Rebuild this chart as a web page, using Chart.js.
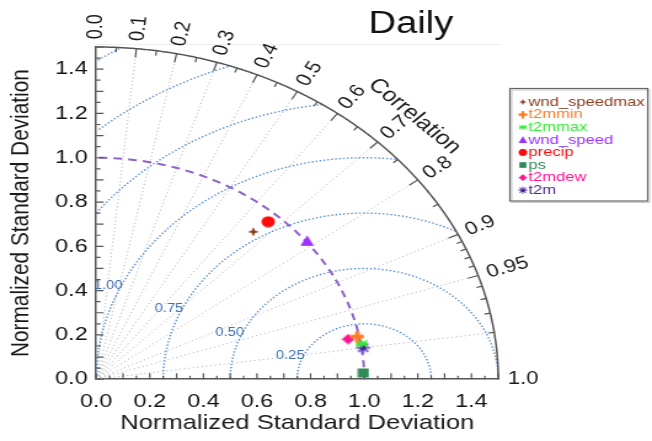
<!DOCTYPE html>
<html>
<head>
<meta charset="utf-8">
<script src="https://cdn.jsdelivr.net/npm/chart.js@4.4.1/dist/chart.umd.min.js"></script>
<style>
body { margin: 0; background: #fff; }
#taylor { display: block; }
</style>
</head>
<body>
<canvas id="taylor" width="530" height="441"></canvas>
<script>
// model names, normalized std and correlation
var models = ['wnd_speedmax', 't2mmin', 't2mmax', 'wnd_speed', 'precip', 'ps', 't2mdew', 't2m'];
var stdDev = [0.887, 0.993, 1.002, 1.005, 0.958, 0.997, 0.957, 1.006];
var correlation = [0.661, 0.981, 0.987, 0.783, 0.670, 0.9996, 0.982, 0.990];
var colors = ['#8c3a1c', '#ff7a1f', '#33ee33', '#9b30ff', '#ff0a0a', '#2e8b57', '#ff1493', '#4b2896'];

var stdTicks = [0, 0.2, 0.4, 0.6, 0.8, 1.0, 1.2, 1.4];
var corrLines = [0.1, 0.2, 0.3, 0.4, 0.5, 0.6, 0.7, 0.8, 0.9, 0.95, 0.99];
var corrLabelValues = [0, 0.1, 0.2, 0.3, 0.4, 0.5, 0.6, 0.7, 0.8, 0.9, 0.95, 1.0];
var corrLabelText = ['0.0', '0.1', '0.2', '0.3', '0.4', '0.5', '0.6', '0.7', '0.8', '0.9', '0.95', '1.0'];
var rmsLevels = [0.25, 0.5, 0.75, 1.0, 1.25, 1.5, 1.75];
var rmsLabelText = ['0.25', '0.50', '0.75', '1.00'];
var refStd = 1.0;
var stdMax = 1.5;

var FONT = "'Liberation Sans', Arial, Helvetica, sans-serif";

function marker(size, draw) {
    var c = document.createElement('canvas');
    c.width = size; c.height = size;
    draw(c.getContext('2d'), size / 2, size);
    return c;
}

var shapes = [
    // 4 point star
    function (col) { return marker(10, function (g, c, s) {
        g.fillStyle = col; g.beginPath();
        for (var k = 0; k < 8; k++) {
            var a = k * Math.PI / 4 - Math.PI / 2, r = k % 2 ? 1.8 : c - 0.3;
            g.lineTo(c + r * Math.cos(a), c + r * Math.sin(a));
        }
        g.closePath(); g.fill();
    }); },
    // thick plus
    function (col) { return marker(12, function (g, c, s) {
        g.fillStyle = col;
        g.fillRect(c - 1.8, 0.5, 3.6, s - 1);
        g.fillRect(0.5, c - 1.8, s - 1, 3.6);
    }); },
    // bow tie
    function (col) { return marker(10, function (g, c, s) {
        g.fillStyle = col; g.beginPath();
        g.moveTo(0.5, 1); g.lineTo(c, c); g.lineTo(0.5, s - 1); g.closePath();
        g.moveTo(s - 0.5, 1); g.lineTo(c, c); g.lineTo(s - 0.5, s - 1); g.closePath();
        g.fill();
        g.fillRect(c - 1, 1.5, 2, s - 3);
    }); },
    // triangle
    function (col) { return marker(12, function (g, c, s) {
        g.fillStyle = col; g.beginPath();
        g.moveTo(c, 0.5); g.lineTo(s - 0.5, s - 1); g.lineTo(0.5, s - 1); g.closePath(); g.fill();
    }); },
    // circle
    function (col) { return marker(12, function (g, c, s) {
        g.fillStyle = col; g.beginPath(); g.arc(c, c, c - 0.5, 0, Math.PI * 2); g.fill();
    }); },
    // square
    function (col) { return marker(10, function (g, c, s) {
        g.fillStyle = col; g.fillRect(0.5, 0.5, s - 1, s - 1);
    }); },
    // diamond
    function (col) { return marker(11, function (g, c, s) {
        g.fillStyle = col; g.beginPath();
        g.moveTo(c, 0.3); g.lineTo(s - 0.3, c); g.lineTo(c, s - 0.3); g.lineTo(0.3, c); g.closePath(); g.fill();
    }); },
    // asterisk star
    function (col) { return marker(13, function (g, c, s) {
        g.strokeStyle = '#6d55c4'; g.lineWidth = 1.8; g.beginPath();
        for (var k = 0; k < 4; k++) {
            var a = k * Math.PI / 4, r = c - 0.8;
            g.moveTo(c - r * Math.cos(a), c - r * Math.sin(a));
            g.lineTo(c + r * Math.cos(a), c + r * Math.sin(a));
        }
        g.stroke();
        g.fillStyle = col; g.beginPath(); g.arc(c, c, 2.6, 0, Math.PI * 2); g.fill();
    }); }
];

var markers = models.map(function (m, i) { return shapes[i](colors[i]); });

var datasets = models.map(function (name, i) {
    var c = correlation[i], s = stdDev[i];
    return {
        label: name,
        data: [{ x: s * c, y: s * Math.sqrt(1 - c * c) }],
        pointStyle: markers[i],
        backgroundColor: colors[i],
        borderColor: colors[i],
        pointRadius: 6
    };
});

function pathCurve(ctx, fn, n) {
    var pen = false;
    ctx.beginPath();
    for (var i = 0; i <= n; i++) {
        var p = fn(i / n);
        if (p) {
            if (pen) ctx.lineTo(p[0], p[1]); else ctx.moveTo(p[0], p[1]);
            pen = true;
        } else {
            pen = false;
        }
    }
    ctx.stroke();
}

var taylorPlugin = {
    id: 'taylor',
    beforeDatasetsDraw: function (chart) {
        var ctx = chart.ctx, xs = chart.scales.x, ys = chart.scales.y;
        function P(x, y) { return [xs.getPixelForValue(x), ys.getPixelForValue(y)]; }
        var area = chart.chartArea;
        ctx.save();

        // faint frame line above the plot
        ctx.strokeStyle = '#eeeeee'; ctx.lineWidth = 1;
        ctx.beginPath(); ctx.moveTo(area.left, area.top - 2.5); ctx.lineTo(area.right + 2, area.top - 2.5); ctx.stroke();

        // correlation rays
        ctx.strokeStyle = '#b8b8b8'; ctx.lineWidth = 1; ctx.setLineDash([1.2, 2.4]);
        corrLines.forEach(function (c) {
            var a = P(0, 0), b = P(stdMax * c, stdMax * Math.sqrt(1 - c * c));
            ctx.beginPath(); ctx.moveTo(a[0], a[1]); ctx.lineTo(b[0], b[1]); ctx.stroke();
        });

        // centred RMS difference arcs
        ctx.strokeStyle = '#5b8dcc'; ctx.lineWidth = 1.4; ctx.setLineDash([1.4, 1.8]);
        rmsLevels.forEach(function (r) {
            pathCurve(ctx, function (t) {
                var a = Math.PI * t, x = refStd + r * Math.cos(a), y = r * Math.sin(a);
                if (x < 0 || x * x + y * y > stdMax * stdMax) return null;
                return P(x, y);
            }, 400);
        });
        ctx.setLineDash([]);
        ctx.fillStyle = '#3f6fb3'; ctx.font = '12px ' + FONT;
        ctx.textAlign = 'right'; ctx.textBaseline = 'middle';
        rmsLabelText.forEach(function (txt, i) {
            var r = rmsLevels[i], a = 155 * Math.PI / 180;
            var p = P(refStd + r * Math.cos(a), r * Math.sin(a));
            ctx.fillText(txt, p[0] + 1, p[1]);
        });

        // reference std arc
        ctx.strokeStyle = '#8d62c9'; ctx.lineWidth = 2; ctx.setLineDash([7, 5]);
        pathCurve(ctx, function (t) {
            var a = Math.PI / 2 * t;
            return P(refStd * Math.cos(a), refStd * Math.sin(a));
        }, 200);
        ctx.setLineDash([]);

        // outer arc
        ctx.strokeStyle = '#555'; ctx.lineWidth = 1.5;
        pathCurve(ctx, function (t) {
            var a = Math.PI / 2 * t;
            return P(stdMax * Math.cos(a), stdMax * Math.sin(a));
        }, 300);

        // ticks on outer arc
        ctx.lineWidth = 1.2;
        var k, c;
        for (k = 1; k < 19; k++) {
            c = k * 0.05;
            drawArcTick(c, k % 2 ? 0.022 : 0.04);
        }
        for (k = 91; k < 100; k++) {
            drawArcTick(k / 100, k === 95 ? 0.04 : 0.022);
        }
        function drawArcTick(c, len) {
            var s = Math.sqrt(1 - c * c);
            var a = P(stdMax * c, stdMax * s), b = P((stdMax - len) * c, (stdMax - len) * s);
            ctx.beginPath(); ctx.moveTo(a[0], a[1]); ctx.lineTo(b[0], b[1]); ctx.stroke();
        }

        // ticks on both std axes, pointing inwards
        for (k = 0; k <= 30; k++) {
            var v = k * 0.05, len = k % 2 ? 3.5 : 6;
            var px = xs.getPixelForValue(v), py = ys.getPixelForValue(v);
            ctx.beginPath();
            ctx.moveTo(px, area.bottom); ctx.lineTo(px, area.bottom - len);
            ctx.moveTo(area.left, py); ctx.lineTo(area.left + len, py);
            ctx.stroke();
        }
        ctx.restore();
    },
    afterDraw: function (chart) {
        var ctx = chart.ctx, xs = chart.scales.x, ys = chart.scales.y;
        function P(x, y) { return [xs.getPixelForValue(x), ys.getPixelForValue(y)]; }
        ctx.save();

        // correlation labels along the outer arc
        ctx.fillStyle = '#1a1a1a'; ctx.font = '18px ' + FONT;
        ctx.textAlign = 'left'; ctx.textBaseline = 'middle';
        corrLabelValues.forEach(function (c, i) {
            var th = Math.acos(c), p = P(1.535 * c, 1.535 * Math.sin(th));
            ctx.save(); ctx.translate(p[0], p[1]); ctx.rotate(-th);
            ctx.fillText(corrLabelText[i], 0, 0);
            ctx.restore();
        });

        // axis name along the arc
        var th = 45 * Math.PI / 180, q = P(1.68 * Math.cos(th), 1.68 * Math.sin(th));
        ctx.save(); ctx.translate(q[0], q[1]); ctx.rotate(Math.PI / 2 - th);
        ctx.font = '20px ' + FONT; ctx.textAlign = 'center';
        ctx.fillText('Correlation', 0, 0);
        ctx.restore();

        // title
        ctx.font = '31px ' + FONT; ctx.textAlign = 'center'; ctx.fillStyle = '#111';
        ctx.fillText('Daily', 334, 24);

        // legend
        var bx = 414.5, by = 88.5, bw = 112, bh = 112.5;
        ctx.strokeStyle = '#c8c8c8'; ctx.lineWidth = 1;
        ctx.strokeRect(bx + 1.5, by + 1.5, bw, bh);
        ctx.strokeStyle = '#666'; ctx.lineWidth = 1.2;
        ctx.strokeRect(bx, by, bw, bh);
        ctx.font = '13.5px ' + FONT; ctx.textAlign = 'left';
        models.forEach(function (name, i) {
            var y = 102 + i * 12.6, m = markers[i], sc = 0.65;
            ctx.drawImage(m, 425 - m.width * sc / 2, y - m.height * sc / 2, m.width * sc, m.height * sc);
            ctx.fillStyle = colors[i];
            ctx.fillText(name, 429.5, y);
        });
        ctx.restore();
    }
};

function stdAxis(padding, titlePadding) {
    return {
        type: 'linear',
        min: 0,
        max: stdMax,
        afterBuildTicks: function (axis) {
            axis.ticks = stdTicks.map(function (v) { return { value: v }; });
        },
        grid: { display: false, drawTicks: false },
        border: { display: true, color: '#555', width: 1.5 },
        ticks: {
            color: '#111',
            font: { family: FONT, size: 19, lineHeight: 1 },
            padding: padding,
            maxRotation: 0,
            autoSkip: false,
            callback: function (v) { return Number(v).toFixed(1); }
        },
        title: {
            display: true,
            text: 'Normalized Standard Deviation',
            color: '#1a1a1a',
            font: { family: FONT, size: 20.8, lineHeight: 1 },
            padding: titlePadding
        }
    };
}

var canvas = document.getElementById('taylor');
var ctx = canvas.getContext('2d');
var myChart = new Chart(ctx, {
    type: 'scatter',
    data: { datasets: datasets },
    options: {
        responsive: false,
        devicePixelRatio: 1,
        animation: false,
        layout: { padding: { left: 3, right: 125, top: 47, bottom: 4 } },
        plugins: { legend: { display: false }, tooltip: { enabled: false } },
        scales: {
            x: stdAxis(13, { top: -11, bottom: 3 }),
            y: stdAxis(7, { top: 4, bottom: 10 })
        }
    },
    plugins: [taylorPlugin]
});
// the source picture is stretched sideways; stretch the canvas the same way
canvas.style.width = '652px';
canvas.style.height = '441px';
</script>
</body>
</html>
